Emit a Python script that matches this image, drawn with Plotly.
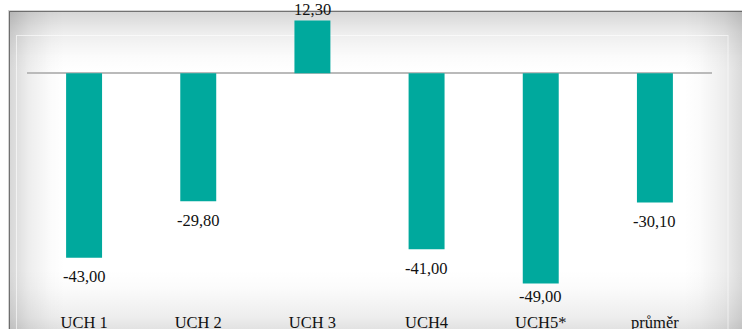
import base64
import plotly.graph_objects as go

# ---- data -------------------------------------------------------------
categories = ["UCH 1", "UCH 2", "UCH 3", "UCH4", "UCH5*", "průměr"]
values = [-43.00, -29.80, 12.30, -41.00, -49.00, -30.10]

# ---- styling / layout constants ---------------------------------------
W, H = 742, 329
BAR_COLOR = "#00a99d"
TEXT_COLOR = "#111111"
FONT = "Liberation Serif, Times New Roman, serif"
FONT_SIZE = 16.5

# plot area in pixels
X_LEFT, X_RIGHT = 27, 712
Y_TOP, Y_BOTTOM = 11, 310
ZERO_PX = 73.3          # pixel row of the zero line
PX_PER_UNIT = 4.29      # vertical scale

LABEL_GAP = 19          # bar end -> label centre, px
LABEL_LOWEST = 296.5    # keep labels clear of the category axis

y_max = (ZERO_PX - Y_TOP) / PX_PER_UNIT
y_min = y_max - (Y_BOTTOM - Y_TOP) / PX_PER_UNIT


def fmt(v):
    return f"{v:.2f}".replace(".", ",")


# ---- framed background with soft edge shading (inline SVG) ------------
def fade(gid, x1, y1, x2, y2):
    return (
        f"<linearGradient id='{gid}' x1='{x1}' y1='{y1}' x2='{x2}' y2='{y2}'>"
        "<stop offset='0' stop-color='#000' stop-opacity='0.16'/>"
        "<stop offset='0.35' stop-color='#000' stop-opacity='0.07'/>"
        "<stop offset='0.75' stop-color='#000' stop-opacity='0.015'/>"
        "<stop offset='1' stop-color='#000' stop-opacity='0'/>"
        "</linearGradient>"
    )


FL, FT, FR, FB = 9.5, 11.5, 746, 342   # frame edges
svg = (
    f"<svg xmlns='http://www.w3.org/2000/svg' width='{W}' height='{H}' viewBox='0 0 {W} {H}'>"
    "<defs>"
    + fade("t", 0, 0, 0, 1)
    + fade("b", 0, 1, 0, 0)
    + fade("l", 0, 0, 1, 0)
    + fade("r", 1, 0, 0, 0)
    + "</defs>"
    f"<rect x='{FL-1}' y='{FT-1}' width='{FR-FL+2}' height='{FB-FT+2}' fill='none' stroke='#d4d4d4'/>"
    f"<rect x='{FL}' y='{FT}' width='{FR-FL}' height='{FB-FT}' fill='#ffffff' stroke='#7c7c7c'/>"
    f"<rect x='{FL}' y='{FT}' width='{FR-FL}' height='60' fill='url(#t)'/>"
    f"<rect x='{FL}' y='{FB-72}' width='{FR-FL}' height='72' fill='url(#b)'/>"
    f"<rect x='{FL}' y='{FT}' width='55' height='{FB-FT}' fill='url(#l)'/>"
    f"<rect x='{FR-62}' y='{FT}' width='62' height='{FB-FT}' fill='url(#r)'/>"
    "<rect x='16.5' y='35.5' width='711.5' height='320' fill='none' stroke='#ffffff' stroke-opacity='0.6'/>"
    "</svg>"
)
bg_uri = "data:image/svg+xml;base64," + base64.b64encode(svg.encode("utf-8")).decode("ascii")

# ---- figure -----------------------------------------------------------
fig = go.Figure(
    go.Bar(
        x=categories,
        y=values,
        width=0.315,
        marker=dict(color=BAR_COLOR, line=dict(width=0)),
        hoverinfo="skip",
    )
)

# value labels just beyond the end of each bar
for cat, v in zip(categories, values):
    if v < 0:
        end_px = ZERO_PX - v * PX_PER_UNIT
        shift = -min(LABEL_GAP, LABEL_LOWEST - end_px)
        anchor = "middle"
    else:
        shift = 0
        anchor = "bottom"
    fig.add_annotation(
        x=cat,
        y=v,
        xref="x",
        yref="y",
        text=fmt(v),
        showarrow=False,
        yanchor=anchor,
        yshift=shift,
        font=dict(family=FONT, size=FONT_SIZE, color=TEXT_COLOR),
    )

fig.add_layout_image(
    source=bg_uri,
    xref="paper",
    yref="paper",
    x=0,
    y=1,
    sizex=1,
    sizey=1,
    xanchor="left",
    yanchor="top",
    sizing="stretch",
    layer="below",
)

fig.update_layout(
    width=W,
    height=H,
    margin=dict(l=0, r=0, t=0, b=0),
    paper_bgcolor="#ffffff",
    plot_bgcolor="rgba(0,0,0,0)",
    showlegend=False,
    font=dict(family=FONT, size=FONT_SIZE, color=TEXT_COLOR),
    xaxis=dict(
        domain=[X_LEFT / W, X_RIGHT / W],
        range=[-0.5, len(categories) - 0.5],
        automargin=False,
        showgrid=False,
        showline=False,
        zeroline=False,
        ticks="",
        tickfont=dict(family=FONT, size=FONT_SIZE, color=TEXT_COLOR),
        fixedrange=True,
    ),
    yaxis=dict(
        domain=[1 - Y_BOTTOM / H, 1 - Y_TOP / H],
        range=[y_min, y_max],
        automargin=False,
        showgrid=False,
        showline=False,
        showticklabels=False,
        ticks="",
        zeroline=True,
        zerolinecolor="#bababa",
        zerolinewidth=1.6,
        fixedrange=True,
    ),
)

fig.write_html("out.html", config={"displayModeBar": False})
